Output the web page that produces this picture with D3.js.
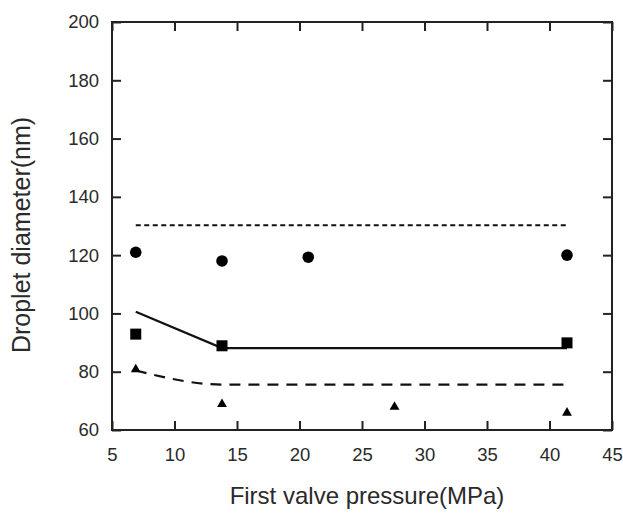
<!DOCTYPE html>
<html>
<head>
<meta charset="utf-8">
<script src="https://cdn.jsdelivr.net/npm/d3@7"></script>
<style>
  body { margin: 0; background: #fff; }
  text { font-family: "Liberation Sans", Arial, sans-serif; fill: #2a2a2a; }
</style>
</head>
<body>
<script>
// data
var circleX = [6.9, 13.8, 20.7, 41.4],
    circleY = [121.0, 118.0, 119.3, 120.0];
var squareX = [6.9, 13.8, 41.4],
    squareY = [92.9, 88.9, 89.9];
var triX = [6.9, 13.8, 27.6, 41.4],
    triY = [80.8, 68.9, 67.9, 65.9];
var dottedX = [6.9, 41.4],
    dottedY = [130.3, 130.3];
var solidX = [6.9, 13.8, 41.4],
    solidY = [100.6, 88.1, 88.1];
var dashedX = [6.9, 13.8, 41.4],
    dashedY = [80.4, 75.6, 75.6];
var xTicks = [5, 10, 15, 20, 25, 30, 35, 40, 45],
    yTicks = [60, 80, 100, 120, 140, 160, 180, 200];

// set the dimensions and margins of the graph
var margin = {top: 22, right: 11, bottom: 83, left: 112},
    width = 623 - margin.left - margin.right,
    height = 513 - margin.top - margin.bottom;

var svg = d3.select("body")
  .append("svg")
    .attr("width", 623)
    .attr("height", 513)
  .append("g")
    .attr("transform", "translate(" + margin.left + "," + margin.top + ")");

var x = d3.scaleLinear().domain([5, 45]).range([0, width]);
var y = d3.scaleLinear().domain([60, 200]).range([height, 0]);

// axes, ticks pointing inward on all four sides
var tk = 9;
svg.append("g")
  .attr("transform", "translate(0," + height + ")")
  .call(d3.axisBottom(x).tickValues(xTicks).tickSizeInner(-tk).tickSizeOuter(0).tickPadding(18));
svg.append("g")
  .call(d3.axisLeft(y).tickValues(yTicks).tickSizeInner(-tk).tickSizeOuter(0).tickPadding(13));
svg.append("g")
  .call(d3.axisTop(x).tickValues(xTicks).tickSizeInner(-tk).tickSizeOuter(0).tickFormat(""));
svg.append("g")
  .attr("transform", "translate(" + width + ",0)")
  .call(d3.axisRight(y).tickValues(yTicks).tickSizeInner(-tk).tickSizeOuter(0).tickFormat(""));

svg.selectAll(".domain").remove();
svg.selectAll(".tick line").attr("stroke", "#222").attr("stroke-width", 2);
svg.selectAll(".tick text").style("font-size", "18.5px").attr("fill", "#2a2a2a");

svg.append("rect")
  .attr("width", width)
  .attr("height", height)
  .attr("fill", "none")
  .attr("stroke", "#222")
  .attr("stroke-width", 2);

// lines
function pts(xs, ys) { return xs.map(function(d, i) { return [d, ys[i]]; }); }
var line = d3.line().x(function(d) { return x(d[0]); }).y(function(d) { return y(d[1]); });

svg.append("path")
  .attr("d", line(pts(dottedX, dottedY)))
  .attr("fill", "none").attr("stroke", "#111").attr("stroke-width", 2)
  .attr("stroke-dasharray", "5,3.5");
svg.append("path")
  .attr("d", line(pts(solidX, solidY)))
  .attr("fill", "none").attr("stroke", "#111").attr("stroke-width", 2.2);
svg.append("path")
  .attr("d", line.curve(d3.curveMonotoneX)(pts(dashedX, dashedY)))
  .attr("fill", "none").attr("stroke", "#111").attr("stroke-width", 2.2)
  .attr("stroke-dasharray", "11,8");

// markers
svg.selectAll("circle.pt")
  .data(pts(circleX, circleY))
  .enter().append("circle")
    .attr("class", "pt")
    .attr("cx", function(d) { return x(d[0]); })
    .attr("cy", function(d) { return y(d[1]); })
    .attr("r", 5.8)
    .attr("fill", "#000");

svg.selectAll("rect.pt")
  .data(pts(squareX, squareY))
  .enter().append("rect")
    .attr("class", "pt")
    .attr("x", function(d) { return x(d[0]) - 5.5; })
    .attr("y", function(d) { return y(d[1]) - 5.5; })
    .attr("width", 11)
    .attr("height", 11)
    .attr("fill", "#000");

svg.selectAll("path.tri")
  .data(pts(triX, triY))
  .enter().append("path")
    .attr("class", "tri")
    .attr("transform", function(d) { return "translate(" + x(d[0]) + "," + y(d[1]) + ")"; })
    .attr("d", d3.symbol().type(d3.symbolTriangle).size(42))
    .attr("fill", "#000");

// axis titles
svg.append("text")
  .attr("x", 255)
  .attr("y", height + 74)
  .attr("text-anchor", "middle")
  .style("font-size", "24px")
  .text("First valve pressure(MPa)");

svg.append("text")
  .attr("transform", "translate(" + (-82) + "," + 213 + ")rotate(-90)")
  .attr("text-anchor", "middle")
  .style("font-size", "25px")
  .text("Droplet diameter(nm)");
</script>
</body>
</html>
